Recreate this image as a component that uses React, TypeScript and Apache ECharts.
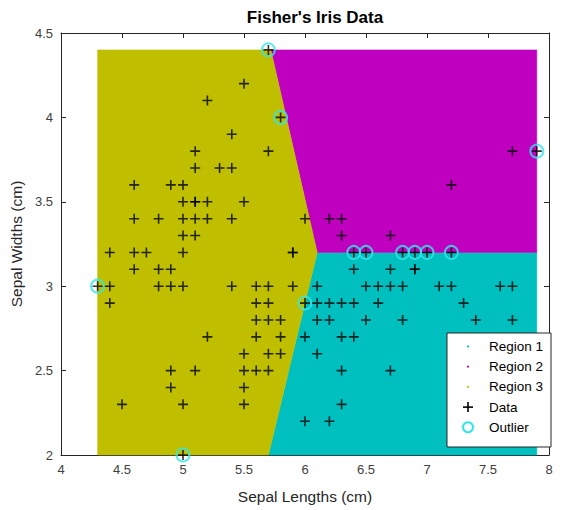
import React, { useEffect, useRef } from "react";
import * as echarts from "echarts";

// Fisher's iris data: sepal length / sepal width (unique positions)
const sepalLength = [
  5.1, 4.9, 4.7, 4.6, 5.0, 5.4, 4.6, 5.0, 4.4, 4.9, 5.4, 4.8, 4.8, 4.3, 5.8, 5.7, 5.7, 5.1, 5.1, 5.1,
  4.6, 5.1, 5.0, 5.2, 5.2, 4.8, 5.2, 5.5, 5.0, 5.5, 4.4, 5.1, 5.0, 4.5, 4.4, 5.3, 5.0, 4.6, 4.9, 5.4,
  7.0, 6.4, 6.9, 5.5, 6.5, 5.7, 6.3, 4.9, 6.6, 5.2, 5.0, 5.9, 6.0, 6.1, 5.6, 6.7, 5.6, 5.8, 6.2, 5.6,
  5.9, 6.1, 6.3, 6.4, 6.6, 6.8, 6.7, 6.0, 5.7, 5.5, 6.0, 5.4, 6.0, 6.3, 5.5, 5.5, 6.1, 5.8, 5.0, 5.6,
  5.7, 5.7, 6.2, 5.1, 7.1, 6.3, 6.5, 7.6, 4.9, 7.3, 6.7, 7.2, 6.4, 6.8, 5.7, 5.8, 7.7, 7.7, 5.6, 7.7,
  6.3, 6.7, 7.2, 6.2, 7.2, 7.4, 7.9, 6.1, 7.7, 6.3, 6.4, 6.9, 5.9, 6.2, 6.5, 6.9, 6.8,
];
const sepalWidth = [
  3.5, 3.0, 3.2, 3.1, 3.6, 3.9, 3.4, 3.4, 2.9, 3.1, 3.7, 3.4, 3.0, 3.0, 4.0, 4.4, 3.8, 3.8, 3.7, 3.3,
  3.6, 3.4, 3.0, 3.5, 3.4, 3.1, 4.1, 4.2, 3.2, 3.5, 3.0, 3.5, 3.3, 2.3, 3.2, 3.7, 3.5, 3.2, 3.6, 3.4,
  3.2, 3.2, 3.1, 2.3, 2.8, 2.8, 3.3, 2.4, 2.9, 2.7, 2.0, 3.0, 2.2, 2.9, 2.9, 3.1, 3.0, 2.7, 2.2, 2.5,
  3.2, 2.8, 2.5, 2.9, 3.0, 2.8, 3.0, 2.9, 2.6, 2.4, 2.7, 3.0, 3.4, 2.3, 2.5, 2.6, 3.0, 2.6, 2.3, 2.7,
  3.0, 2.9, 2.9, 2.5, 3.0, 2.9, 3.0, 3.0, 2.5, 2.9, 2.5, 3.6, 2.7, 3.0, 2.5, 2.8, 3.8, 2.6, 2.8, 2.8,
  2.7, 3.3, 3.2, 2.8, 3.0, 2.8, 3.8, 2.6, 3.0, 3.4, 3.1, 3.2, 3.2, 3.4, 3.2, 3.1, 3.2,
];

const outlierX = [4.3, 5.0, 5.7, 5.8, 7.9, 6.0, 6.4, 6.5, 6.8, 6.9, 7.0, 7.2];
const outlierY = [3.0, 2.0, 4.4, 4.0, 3.8, 2.9, 3.2, 3.2, 3.2, 3.2, 3.2, 3.2];

// Region polygons (vertices in data units)
const region1X = [6.1, 7.9, 7.9, 5.7];
const region1Y = [3.2, 3.2, 2.0, 2.0];
const region2X = [5.72, 7.9, 7.9, 6.1];
const region2Y = [4.4, 4.4, 3.2, 3.2];
const region3X = [4.3, 5.72, 6.1, 5.7, 4.3];
const region3Y = [4.4, 4.4, 3.2, 2.0, 2.0];

const xTicks = { min: 4, max: 8, interval: 0.5 };
const yTicks = { min: 2, max: 4.5, interval: 0.5 };

const regionNames = ["Region 1", "Region 2", "Region 3"];
const regionColors = ["#00BFBF", "#BF00BF", "#BFBF00"];
const legendLabels = ["Region 1", "Region 2", "Region 3", "Data", "Outlier"];

const FONT = "'Liberation Sans', Arial, Helvetica, sans-serif";
const AXIS_COLOR = "#262626";
const OUTLIER_COLOR = "#33E6E6";

function regionSeries(name: string, xs: number[], ys: number[], color: string) {
  const data = xs.map((x, i) => [x, ys[i]]);
  return {
    type: "custom",
    name,
    xAxisIndex: 0,
    yAxisIndex: 0,
    silent: true,
    z: 1,
    data,
    renderItem: (params: any, api: any) => {
      if (params.dataIndex !== 0) return null;
      const pts = data.map((p) => api.coord(p));
      return {
        type: "polygon",
        shape: { points: pts },
        style: { fill: color, stroke: color, lineWidth: 0.5 },
      };
    },
  };
}

const plusPath = "path://M4.2,0H5.8V4.2H10V5.8H5.8V10H4.2V5.8H0V4.2H4.2Z";

export default function App() {
  const ref = useRef<HTMLDivElement>(null);
  useEffect(() => {
    if (!ref.current) return;
    const chart = echarts.init(ref.current, null, { renderer: "svg" });
    const axisCommon = {
      axisLine: { show: true, onZero: false, lineStyle: { color: AXIS_COLOR, width: 1 } },
      axisTick: { show: true, inside: true, length: 5, lineStyle: { color: AXIS_COLOR } },
      splitLine: { show: false },
    };
    const legendX = 447;
    const legendY = 333;
    const rowY = (i: number) => legendY + 13.5 + i * 20.2;
    const iconX = 468;
    const Z = 100;
    const legendChildren: any[] = [
      {
        type: "rect",
        z: Z,
        shape: { x: legendX, y: legendY, width: 104, height: 114 },
        style: { fill: "#fff", stroke: AXIS_COLOR, lineWidth: 1 },
      },
    ];
    regionColors.forEach((c, i) => {
      legendChildren.push({
        type: "circle",
        z: Z + 1,
        shape: { cx: iconX, cy: rowY(i), r: 1 },
        style: { fill: c },
      });
    });
    legendChildren.push({
      type: "line",
      z: Z + 1,
      shape: { x1: iconX - 5, y1: rowY(3), x2: iconX + 5, y2: rowY(3) },
      style: { stroke: "#000", lineWidth: 1.6 },
    });
    legendChildren.push({
      type: "line",
      z: Z + 1,
      shape: { x1: iconX, y1: rowY(3) - 5, x2: iconX, y2: rowY(3) + 5 },
      style: { stroke: "#000", lineWidth: 1.6 },
    });
    legendChildren.push({
      type: "circle",
      z: Z + 1,
      shape: { cx: iconX, cy: rowY(4), r: 5 },
      style: { fill: "none", stroke: OUTLIER_COLOR, lineWidth: 2 },
    });
    legendLabels.forEach((t, i) => {
      legendChildren.push({
        type: "text",
        z: Z + 1,
        x: 489,
        y: rowY(i),
        style: {
          text: t,
          fontSize: 13.5,
          fontFamily: FONT,
          fill: "#000",
          verticalAlign: "middle",
          align: "left",
        },
      });
    });

    chart.setOption({
      animation: false,
      backgroundColor: "#fff",
      title: {
        text: "Fisher's Iris Data",
        left: 310,
        textAlign: "center",
        top: 4,
        textStyle: { fontFamily: FONT, fontSize: 17, fontWeight: "bold", color: "#000" },
      },
      grid: { left: 61, right: 13, top: 33, bottom: 55, containLabel: false },
      xAxis: [
        {
          type: "value",
          position: "bottom",
          ...xTicks,
          ...axisCommon,
          axisLabel: { color: "#404040", fontSize: 13, fontFamily: FONT, margin: 8 },
          name: "Sepal Lengths (cm)",
          nameLocation: "middle",
          nameGap: 33,
          nameTextStyle: { color: "#262626", fontSize: 15.5, fontFamily: FONT },
        },
        {
          type: "value",
          position: "top",
          ...xTicks,
          ...axisCommon,
          axisLabel: { show: false },
        },
      ],
      yAxis: [
        {
          type: "value",
          position: "left",
          ...yTicks,
          ...axisCommon,
          axisLabel: { color: "#404040", fontSize: 13, fontFamily: FONT, margin: 8 },
          name: "Sepal Widths (cm)",
          nameLocation: "middle",
          nameGap: 35,
          nameTextStyle: { color: "#262626", fontSize: 15.5, fontFamily: FONT },
        },
        {
          type: "value",
          position: "right",
          ...yTicks,
          ...axisCommon,
          axisLabel: { show: false },
        },
      ],
      series: [
        regionSeries(regionNames[0], region1X, region1Y, regionColors[0]),
        regionSeries(regionNames[1], region2X, region2Y, regionColors[1]),
        regionSeries(regionNames[2], region3X, region3Y, regionColors[2]),
        {
          type: "scatter",
          name: "Outlier",
          z: 3,
          symbol: "circle",
          symbolSize: 13,
          itemStyle: { color: "rgba(0,0,0,0)", borderColor: OUTLIER_COLOR, borderWidth: 2 },
          data: outlierX.map((x, i) => [x, outlierY[i]]),
        },
        {
          type: "scatter",
          name: "Data",
          z: 4,
          symbol: plusPath,
          symbolSize: 10,
          itemStyle: { color: "#000" },
          data: sepalLength.map((x, i) => [x, sepalWidth[i]]),
        },
      ],
      graphic: [{ type: "group", z: Z, children: legendChildren }],
    });
    return () => chart.dispose();
  }, []);
  return (
    <div
      ref={ref}
      style={{ position: "absolute", left: 0, top: 0, width: 562, height: 510 }}
    />
  );
}
